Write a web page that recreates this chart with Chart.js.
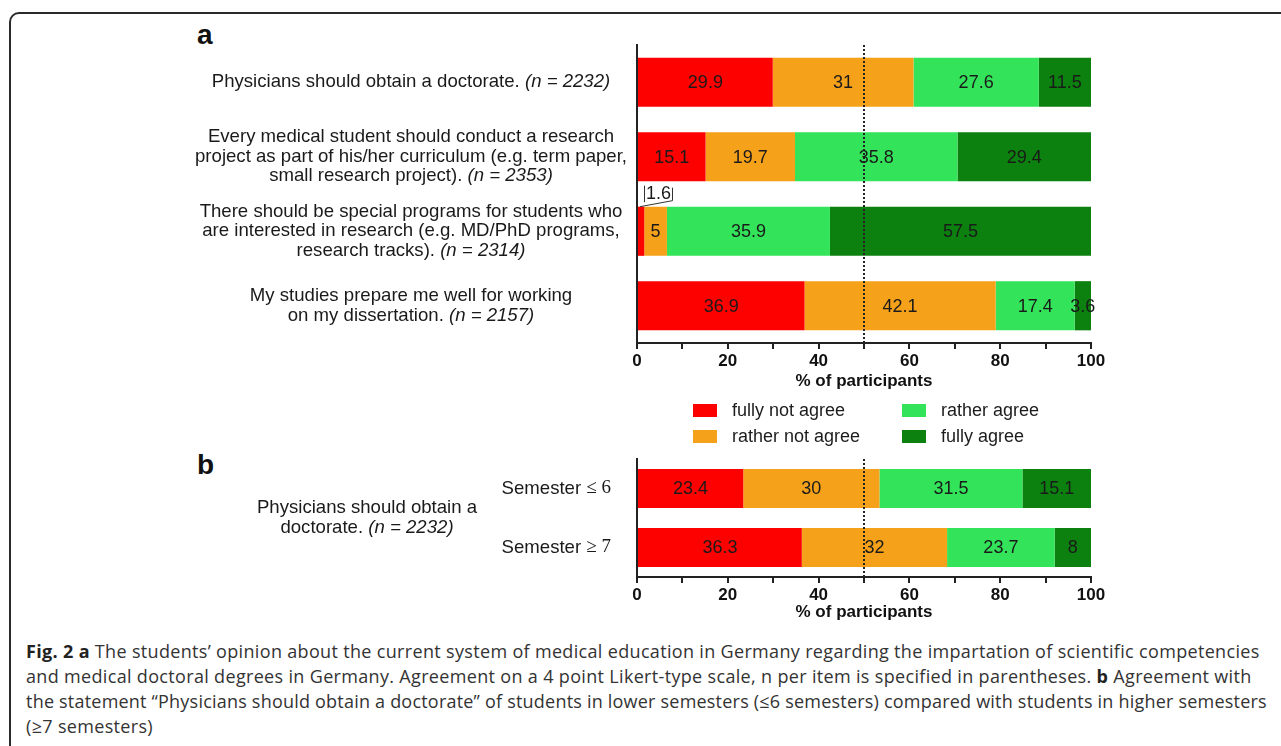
<!DOCTYPE html>
<html>
<head>
<meta charset="utf-8">
<script src="https://cdn.jsdelivr.net/npm/chart.js@4.4.1/dist/chart.umd.min.js"></script>
<style>
  html, body { margin: 0; padding: 0; background: #fff; overflow: hidden; }
  #page { position: relative; width: 1281px; height: 746px; overflow: hidden; font-family: "Liberation Sans", Arial, sans-serif; }
  #frame { position: absolute; left: 9px; top: 12px; width: 1300px; height: 760px; border: 2px solid #2a2a2a; border-radius: 10px; }
  canvas { position: absolute; left: 0; }
  #chartA { top: 0; }
  #chartB { top: 440px; }
  .panel { position: absolute; font-weight: bold; font-size: 28px; color: #111; }
  #legend { position: absolute; left: 693px; top: 397px; display: grid; grid-template-columns: 209px 200px; grid-auto-flow: column; grid-template-rows: 26px 26px; }
  .item { display: flex; align-items: center; font-size: 18px; color: #1c1c1c; white-space: nowrap; }
  .swatch { width: 24px; height: 13px; margin-right: 15px; }
  #caption { position: absolute; left: 26px; top: 639px; width: 1300px; font-family: "Open Sans", sans-serif; font-size: 18px; letter-spacing: 0.33px; line-height: 25px; color: #333; }
  #caption div { white-space: nowrap; }
  #caption div.tight { letter-spacing: 0.21px; }
  #caption b { color: #222; }
</style>
</head>
<body>
<div id="page">
  <div id="frame"></div>
  <div class="panel" style="left:197px; top:19px;">a</div>
  <div class="panel" style="left:197px; top:449px;">b</div>
  <canvas id="chartA" width="1281" height="400"></canvas>
  <canvas id="chartB" width="1281" height="190"></canvas>
  <div id="legend"></div>
  <div id="caption">
<div><b>Fig. 2 a</b> The students’ opinion about the current system of medical education in Germany regarding the impartation of scientific competencies</div>
<div>and medical doctoral degrees in Germany. Agreement on a 4 point Likert-type scale, n per item is specified in parentheses. <b>b</b> Agreement with</div>
<div class="tight">the statement “Physicians should obtain a doctorate” of students in lower semesters (≤6 semesters) compared with students in higher semesters</div>
<div>(≥7 semesters)</div>
  </div>
</div>
<script>
// answer categories, shared by both panels
const answers = ["fully not agree", "rather not agree", "rather agree", "fully agree"];
const answerColors = ["#fd0000", "#f6a11a", "#33e45a", "#0c810f"];

// panel a: one bar per statement (% of participants)
const statements = [
  ["Physicians should obtain a doctorate."],
  ["Every medical student should conduct a research", "project as part of his/her curriculum (e.g. term paper,", "small research project)."],
  ["There should be special programs for students who", "are interested in research (e.g. MD/PhD programs,", "research tracks)."],
  ["My studies prepare me well for working", "on my dissertation."],
];
const statementN = [2232, 2353, 2314, 2157];
const fullyNotAgreeA = [29.9, 15.1, 1.6, 36.9];
const ratherNotAgreeA = [31, 19.7, 5, 42.1];
const ratherAgreeA = [27.6, 35.8, 35.9, 17.4];
const fullyAgreeA = [11.5, 29.4, 57.5, 3.6];

// panel b: first statement split by semester
const semesters = ["Semester ≤ 6", "Semester ≥ 7"];
const groupLabel = ["Physicians should obtain a", "doctorate."];
const groupN = 2232;
const fullyNotAgreeB = [23.4, 36.3];
const ratherNotAgreeB = [30, 32];
const ratherAgreeB = [31.5, 23.7];
const fullyAgreeB = [15.1, 8];

const xTicks = [0, 20, 40, 60, 80, 100];

const SANS = "'Liberation Sans', Arial, sans-serif";
const SERIF = "'Liberation Serif', 'Times New Roman', serif";
const INK = "#1a1a1a";
const LABEL_SIZE = 18.6;

// dotted reference line at 50 %
const midLine = {
  id: "midLine",
  afterDatasetsDraw(chart) {
    const { ctx, chartArea, scales } = chart;
    const x = Math.round(scales.x.getPixelForValue(50));
    ctx.save();
    ctx.strokeStyle = "#222";
    ctx.lineWidth = 2;
    ctx.setLineDash([2, 2]);
    ctx.beginPath();
    ctx.moveTo(x, chartArea.top);
    ctx.lineTo(x, chartArea.bottom);
    ctx.stroke();
    ctx.restore();
  },
};

// small bracket label for segments too narrow to hold their value
const drawCallout = (ctx, left, top, value) => {
  ctx.save();
  ctx.lineWidth = 1;
  ctx.strokeStyle = "#333";
  ctx.beginPath();
  ctx.moveTo(left + 6.5, top - 21);
  ctx.lineTo(left + 6.5, top - 4.5);
  ctx.moveTo(left + 34.5, top - 19);
  ctx.lineTo(left + 34.5, top - 6);
  ctx.moveTo(left + 2, top);
  ctx.lineTo(left + 34.5, top - 6);
  ctx.stroke();
  ctx.fillText(String(value), left + 20.5, top - 13);
  ctx.restore();
};

// value printed in the middle of every segment
const segmentValues = {
  id: "segmentValues",
  afterDatasetsDraw(chart) {
    const ctx = chart.ctx;
    ctx.save();
    ctx.font = "18px " + SANS;
    ctx.fillStyle = INK;
    ctx.textAlign = "center";
    ctx.textBaseline = "middle";
    chart.data.datasets.forEach((ds, di) => {
      chart.getDatasetMeta(di).data.forEach((bar, i) => {
        const v = ds.data[i];
        const left = Math.min(bar.x, bar.base);
        const right = Math.max(bar.x, bar.base);
        if (v < 3) {
          drawCallout(ctx, left, bar.y - bar.height / 2, v);
          return;
        }
        ctx.fillText(String(v), (left + right) / 2, bar.y + 1);
      });
    });
    ctx.restore();
  },
};

// centred line with an italic "(n = …)" tail
const drawLine = (ctx, text, tail, cx, y) => {
  ctx.font = LABEL_SIZE + "px " + SANS;
  const w1 = ctx.measureText(text).width;
  ctx.font = "italic " + LABEL_SIZE + "px " + SANS;
  const w2 = tail ? ctx.measureText(tail).width : 0;
  const x0 = cx - (w1 + w2) / 2;
  ctx.font = LABEL_SIZE + "px " + SANS;
  ctx.fillText(text, x0, y);
  if (tail) {
    ctx.font = "italic " + LABEL_SIZE + "px " + SANS;
    ctx.fillText(tail, x0 + w1, y);
  }
};

const statementLabels = {
  id: "statementLabels",
  afterDraw(chart) {
    const { ctx, scales } = chart;
    const lineH = 19.5;
    ctx.save();
    ctx.fillStyle = INK;
    ctx.textAlign = "left";
    ctx.textBaseline = "middle";
    statements.forEach((lines, i) => {
      const cy = scales.y.getPixelForValue(i);
      const y0 = cy - ((lines.length - 1) * lineH) / 2;
      lines.forEach((line, j) => {
        const last = j === lines.length - 1;
        drawLine(ctx, last ? line + " " : line, last ? "(n = " + statementN[i] + ")" : "", 411, y0 + j * lineH);
      });
    });
    ctx.restore();
  },
};

const semesterLabels = {
  id: "semesterLabels",
  afterDraw(chart) {
    const { ctx, scales, chartArea } = chart;
    ctx.save();
    ctx.fillStyle = INK;
    ctx.textBaseline = "middle";
    ctx.textAlign = "left";
    semesters.forEach((label, i) => {
      const y = scales.y.getPixelForValue(i);
      const word = label.split(" ")[0] + " ";
      const rest = label.slice(word.length);
      ctx.font = LABEL_SIZE + "px " + SANS;
      const w1 = ctx.measureText(word).width;
      ctx.font = "19px " + SERIF;
      const w2 = ctx.measureText(rest).width;
      const x0 = chartArea.left - 26 - w1 - w2;
      ctx.font = LABEL_SIZE + "px " + SANS;
      ctx.fillText(word, x0, y);
      ctx.font = "19px " + SERIF;
      ctx.fillText(rest, x0 + w1, y);
    });
    const mid = (scales.y.getPixelForValue(0) + scales.y.getPixelForValue(1)) / 2;
    drawLine(ctx, groupLabel[0], "", 367, mid - 10);
    drawLine(ctx, groupLabel[1] + " ", "(n = " + groupN + ")", 367, mid + 10);
    ctx.restore();
  },
};

const makeDatasets = (series) =>
  series.map((data, i) => ({
    label: answers[i],
    data: data,
    backgroundColor: answerColors[i],
    borderWidth: 0,
    barPercentage: 0.66,
    categoryPercentage: 1,
  }));

const makeOptions = (padTop, axisHeight, titlePad) => ({
  indexAxis: "y",
  responsive: false,
  animation: false,
  devicePixelRatio: 1,
  layout: { padding: { top: padTop, right: 190, left: 0, bottom: 0 } },
  plugins: { legend: { display: false }, tooltip: { enabled: false } },
  scales: {
    x: {
      stacked: true,
      min: 0,
      max: 100,
      afterFit: (scale) => {
        scale.height = axisHeight;
      },
      afterBuildTicks: (scale) => {
        scale.ticks = [0, 10, 20, 30, 40, 50, 60, 70, 80, 90, 100].map((v) => ({ value: v }));
      },
      ticks: {
        autoSkip: false,
        maxRotation: 0,
        padding: 2,
        color: "#111",
        font: { family: SANS, size: 17, weight: "bold" },
        callback: (v) => (xTicks.includes(v) ? String(v) : ""),
      },
      grid: { drawOnChartArea: false, drawTicks: true, tickLength: 6, color: "#222", lineWidth: 2 },
      border: { display: true, color: "#222", width: 2 },
      title: {
        display: true,
        text: "% of participants",
        color: "#111",
        font: { family: SANS, size: 17, weight: "bold" },
        padding: { top: 0, bottom: titlePad },
      },
    },
    y: {
      stacked: true,
      afterFit: (scale) => {
        scale.width = 637;
      },
      ticks: { display: false },
      grid: { display: false },
      border: { display: true, color: "#222", width: 2 },
    },
  },
});

new Chart(document.getElementById("chartA"), {
  type: "bar",
  data: {
    labels: statements.map((s) => s.join(" ")),
    datasets: makeDatasets([fullyNotAgreeA, ratherNotAgreeA, ratherAgreeA, fullyAgreeA]),
  },
  options: makeOptions(45, 57, 8),
  plugins: [midLine, segmentValues, statementLabels],
});

new Chart(document.getElementById("chartB"), {
  type: "bar",
  data: {
    labels: semesters,
    datasets: makeDatasets([fullyNotAgreeB, ratherNotAgreeB, ratherAgreeB, fullyAgreeB]),
  },
  options: makeOptions(19, 53, 7),
  plugins: [midLine, segmentValues, semesterLabels],
});

// legend: two columns, filled top to bottom
const legend = document.getElementById("legend");
answers.forEach((name, i) => {
  const item = document.createElement("div");
  item.className = "item";
  item.innerHTML = '<span class="swatch" style="background:' + answerColors[i] + '"></span>' + name;
  legend.appendChild(item);
});
</script>
</body>
</html>
